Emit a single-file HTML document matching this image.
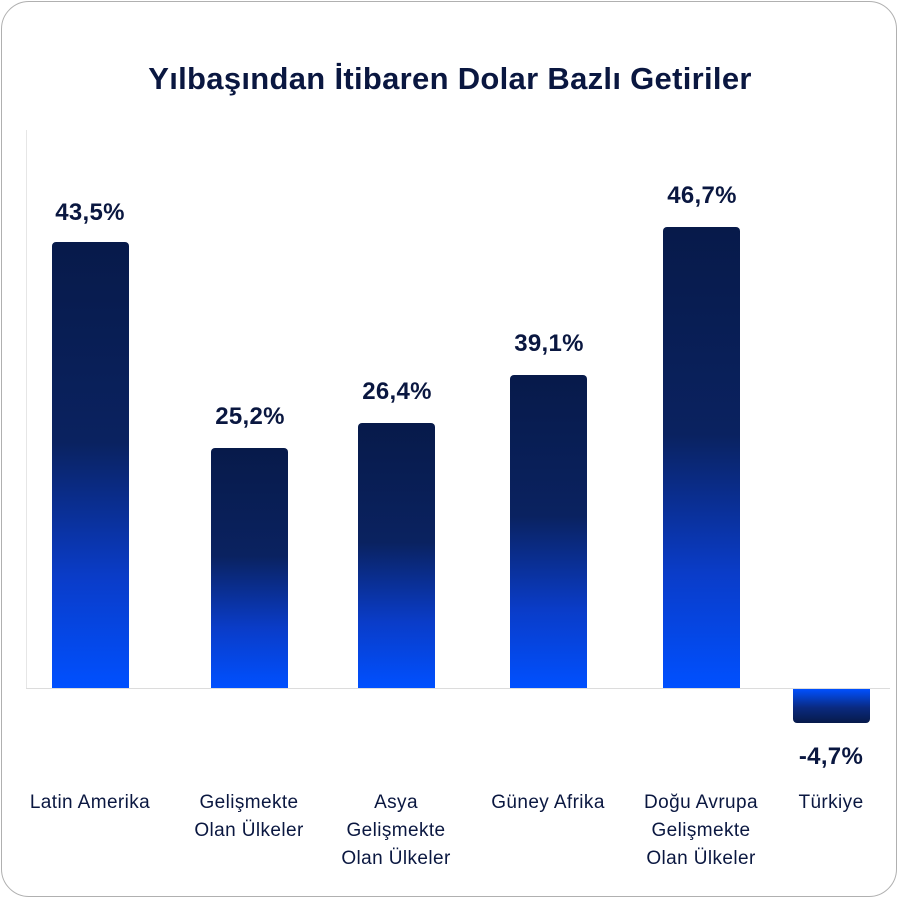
<!DOCTYPE html>
<html><head><style>
body{margin:0;width:900px;height:900px;background:#fff;font-family:"Liberation Sans",sans-serif;}
.card{position:absolute;left:1px;top:1px;width:896px;height:896px;border:1px solid #b0b0b0;border-radius:28px;box-sizing:border-box;}
.t{position:absolute;top:61px;left:0;width:900px;text-align:center;font-weight:bold;font-size:31px;letter-spacing:0.3px;color:#0a1740;}
.bar{position:absolute;width:77px;border-radius:4px 4px 0 0;background:linear-gradient(#071a4a 0%,#0a2260 45%,#0a3cc8 75%,#0050ff 100%);}
.neg{background:linear-gradient(#0050ff,#0a2a80 55%,#071a4a);}
.v{position:absolute;width:140px;text-align:center;font-weight:bold;font-size:24px;letter-spacing:0.3px;color:#0a1740;}
.c{position:absolute;width:170px;text-align:center;font-size:19px;letter-spacing:0.4px;line-height:28px;color:#0a1740;top:789px;}
</style></head><body>
<div class="card"></div>
<div class="t">Yılbaşından İtibaren Dolar Bazlı Getiriler</div>
<div style="position:absolute;left:26px;top:130px;width:1px;height:558px;background:#e6e6e6"></div>
<div style="position:absolute;left:26px;top:688px;width:864px;height:1px;background:#dcdcdc"></div>

<div class="bar" style="left:52px;top:242px;height:446px"></div>
<div class="bar" style="left:211px;top:448px;height:240px"></div>
<div class="bar" style="left:358px;top:423px;height:265px"></div>
<div class="bar" style="left:510px;top:375px;height:313px"></div>
<div class="bar" style="left:663px;top:227px;height:461px"></div>
<div class="bar neg" style="left:793px;top:689px;height:34px;border-radius:0 0 4px 4px"></div>

<div class="v" style="left:20px;top:199px">43,5%</div>
<div class="v" style="left:180px;top:403px">25,2%</div>
<div class="v" style="left:327px;top:378px">26,4%</div>
<div class="v" style="left:479px;top:330px">39,1%</div>
<div class="v" style="left:632px;top:182px">46,7%</div>
<div class="v" style="left:761px;top:743px">-4,7%</div>

<div class="c" style="left:5px">Latin Amerika</div>
<div class="c" style="left:164px">Gelişmekte<br>Olan Ülkeler</div>
<div class="c" style="left:311px">Asya<br>Gelişmekte<br>Olan Ülkeler</div>
<div class="c" style="left:463px">Güney Afrika</div>
<div class="c" style="left:616px">Doğu Avrupa<br>Gelişmekte<br>Olan Ülkeler</div>
<div class="c" style="left:746px">Türkiye</div>
</body></html>
